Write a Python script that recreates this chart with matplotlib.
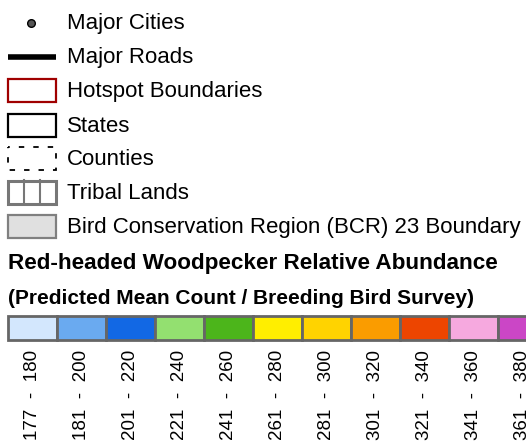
import matplotlib.pyplot as plt
from matplotlib.patches import Rectangle

plt.rcParams['font.family'] = ['Liberation Sans', 'DejaVu Sans']

# legend entries (top block)
layer_names = ["Major Cities", "Major Roads", "Hotspot Boundaries", "States",
               "Counties", "Tribal Lands", "Bird Conservation Region (BCR) 23 Boundary"]

title = "Red-headed Woodpecker Relative Abundance"
subtitle = "(Predicted Mean Count / Breeding Bird Survey)"

# abundance classes
class_lows = [177, 181, 201, 221, 241, 261, 281, 301, 321, 341, 361]
class_highs = [180, 200, 220, 240, 260, 280, 300, 320, 340, 360, 380]
class_colors = ["#d3e7fd", "#6aaaf0", "#1268e4", "#93e070", "#4cb51b", "#ffee00",
                "#ffd300", "#fa9c00", "#ed4500", "#f6a9df", "#cb46c6"]

fig = plt.figure(figsize=(5.26, 4.44), dpi=100)
ax = fig.add_axes([0, 0, 1, 1])
ax.set_xlim(0, 526)
ax.set_ylim(444, 0)
ax.axis('off')

x0, sw, sh = 8, 48, 23
row_y = [23, 57, 91, 125, 158, 192, 226]
txt_x = 67
fs = 16

# symbols
ax.plot([31], [row_y[0]], 'o', ms=5.5, mfc='#555555', mec='black', mew=1)
ax.plot([x0, x0 + sw], [row_y[1]] * 2, color='black', lw=4, solid_capstyle='butt')
ax.add_patch(Rectangle((x0, row_y[2] - sh / 2), sw, sh, fill=False, ec='#a00000', lw=1.6))
ax.add_patch(Rectangle((x0, row_y[3] - sh / 2), sw, sh, fill=False, ec='black', lw=1.6))
ax.add_patch(Rectangle((x0, row_y[4] - sh / 2), sw, sh, fill=False, ec='black', lw=1.3,
                       ls=(2, (3, 5))))
ax.add_patch(Rectangle((x0, row_y[5] - sh / 2), sw, sh, fill=False, ec='#777777', lw=2.2))
for k in (1, 2):
    ax.plot([x0 + sw * k / 3] * 2, [row_y[5] - sh / 2, row_y[5] + sh / 2], color='#777777', lw=1.5)
ax.add_patch(Rectangle((x0, row_y[6] - sh / 2), sw, sh, fc='#e0e0e0', ec='#808080', lw=1.6))

for name, y in zip(layer_names, row_y):
    ax.text(txt_x, y + 1, name, fontsize=fs, va='center', ha='left')

ax.text(x0, 263, title, fontsize=16.2, fontweight='bold', va='center', ha='left')
ax.text(x0, 298, subtitle, fontsize=15, fontweight='bold', va='center', ha='left')

bw = 49
for i, (lo, hi, c) in enumerate(zip(class_lows, class_highs, class_colors)):
    ax.add_patch(Rectangle((x0 + i * bw, 316), bw, 24, fc=c, ec='#666666', lw=2))
    ax.text(x0 + i * bw + bw / 2, 350, f"{lo}  -  {hi}", rotation=90, fontsize=13.5,
            ha='center', va='top')

fig.savefig('out.png', dpi=100)
